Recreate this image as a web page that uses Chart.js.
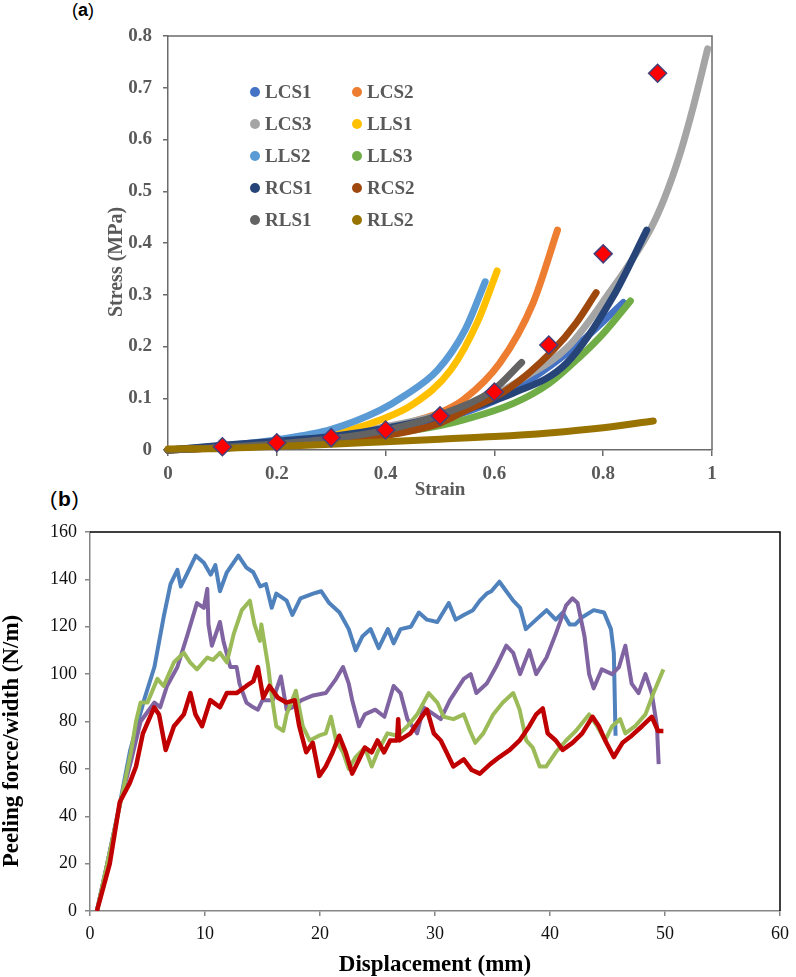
<!DOCTYPE html>
<html>
<head>
<meta charset="utf-8">
<script src="https://cdn.jsdelivr.net/npm/chart.js@4.4.0/dist/chart.umd.min.js"></script>
<style>
  html, body { margin: 0; padding: 0; background: #fff; }
  body { width: 796px; height: 977px; position: relative; overflow: hidden; }
  .tag { position: absolute; font-family: "Liberation Sans", Arial, sans-serif; color: #000; line-height: 1; }
  #wrapA { position: absolute; left: 0; top: 0; }
  #wrapB { position: absolute; left: 0; top: 500px; }
</style>
</head>
<body>
<div class="tag" style="left:72px;top:1px;font-size:18px;">(<b>a</b>)</div>
<div class="tag" style="left:50px;top:488px;font-size:21px;letter-spacing:1px;">(<b>b</b>)</div>
<div id="wrapA"><canvas id="chartA" width="796" height="500"></canvas></div>
<div id="wrapB"><canvas id="chartB" width="796" height="477"></canvas></div>
<script>
// ---- (a) stress / strain : [strain, stress MPa]
var lcs1 = [[0,0],[0.1,0.006],[0.2,0.013],[0.3,0.022],[0.4,0.036],[0.5,0.058],[0.6,0.095],[0.665,0.135],[0.757,0.207],[0.837,0.285]];
var lcs2 = [[0,0],[0.1,0.005],[0.2,0.011],[0.3,0.021],[0.4,0.04],[0.45,0.055],[0.5,0.072],[0.543,0.097],[0.61,0.168],[0.671,0.284],[0.716,0.425]];
var lcs3 = [[0,0],[0.1,0.008],[0.2,0.016],[0.3,0.027],[0.4,0.045],[0.5,0.068],[0.57,0.09],[0.647,0.135],[0.735,0.199],[0.806,0.296],[0.886,0.425],[0.912,0.485],[0.942,0.575],[0.966,0.665],[0.992,0.775]];
var lls1 = [[0,0],[0.1,0.006],[0.2,0.015],[0.3,0.03],[0.39,0.058],[0.45,0.088],[0.52,0.155],[0.57,0.25],[0.605,0.346]];
var lls2 = [[0,0],[0.1,0.008],[0.2,0.02],[0.3,0.04],[0.39,0.077],[0.432,0.103],[0.496,0.155],[0.546,0.232],[0.583,0.325]];
var lls3 = [[0,0],[0.1,0.005],[0.2,0.011],[0.3,0.018],[0.4,0.03],[0.5,0.047],[0.543,0.058],[0.635,0.09],[0.7,0.128],[0.757,0.18],[0.8,0.225],[0.85,0.288]];
var rcs1 = [[0,0],[0.1,0.009],[0.2,0.017],[0.3,0.026],[0.4,0.042],[0.5,0.065],[0.635,0.11],[0.733,0.168],[0.818,0.296],[0.88,0.425]];
var rcs2 = [[0,0],[0.1,0.004],[0.2,0.009],[0.3,0.016],[0.4,0.028],[0.5,0.052],[0.543,0.074],[0.623,0.116],[0.708,0.193],[0.75,0.245],[0.787,0.304]];
var rls1 = [[0,0],[0.1,0.005],[0.2,0.012],[0.3,0.022],[0.4,0.038],[0.5,0.068],[0.598,0.116],[0.65,0.169]];
var rls2 = [[0,0.002],[0.1,0.003],[0.2,0.007],[0.3,0.011],[0.4,0.016],[0.5,0.021],[0.6,0.026],[0.7,0.033],[0.8,0.043],[0.892,0.056]];
var modelStrain = [0.1,0.2,0.3,0.4,0.5,0.6,0.7,0.8,0.9];
var modelStress = [0.0064,0.014,0.024,0.0386,0.066,0.112,0.203,0.379,0.728];

var seriesNames = ['LCS1','LCS2','LCS3','LLS1','LLS2','LLS3','RCS1','RCS2','RLS1','RLS2'];
var seriesColors = ['#4472C4','#ED7D31','#A5A5A5','#FFC000','#5B9BD5','#70AD47','#264478','#9E480E','#636363','#997300'];
var seriesData = [lcs1,lcs2,lcs3,lls1,lls2,lls3,rcs1,rcs2,rls1,rls2];

// ---- (b) peeling : [displacement mm, force/width N/m]
var peelBlue = [[0.6,0],[1.5,20],[2.7,48],[3.5,68],[4.7,89],[5.6,103],[6.4,124],[7.0,138],[7.6,144],[7.9,137],[8.5,143],[9.2,150],[9.9,147],[10.5,142],[10.9,146],[11.3,135],[11.9,143],[12.9,150],[13.6,145],[14.2,143],[14.8,137],[15.3,138],[15.8,128],[16.2,134],[17.1,131],[17.6,125],[18.3,132],[19.4,134],[20.1,135],[20.8,130],[21.7,126],[22.5,119],[23.1,110],[23.7,116],[24.4,119],[25.1,111],[25.9,119],[26.4,113],[27.0,119],[27.9,120],[28.6,126],[29.3,123],[30.2,122],[31.2,130],[31.8,123],[32.5,125],[33.3,127],[33.9,131],[34.5,134],[34.9,135],[35.6,139],[36.2,135],[36.8,131],[37.4,128],[37.9,119],[38.8,123],[39.7,127],[40.5,123],[41.1,126],[41.7,121],[42.2,121],[42.8,124],[43.8,127],[44.7,126],[45.3,119],[45.55,109],[45.7,74]];
var peelPurple = [[0.6,0],[1.5,20],[2.7,47],[3.6,64],[4.4,80],[5.6,88],[6.1,86],[6.7,95],[7.6,103],[8.5,117],[9.3,130],[9.9,128],[10.2,136],[10.3,121],[10.6,112],[11.3,122],[11.6,114],[12.2,103],[12.75,103],[13.0,96],[13.6,88],[14.2,86],[14.6,85],[15.0,89],[15.9,89],[16.6,99],[17.1,85],[17.6,86],[18.4,89],[19.4,91],[20.5,92],[21.4,98],[22.0,103],[22.5,96],[22.8,89],[23.4,78],[23.9,83],[24.8,85],[25.6,82],[26.4,95],[27.0,92],[27.6,81],[28.45,75],[29.0,86],[29.9,83],[30.5,81],[31.3,89],[32.5,98],[33.1,100],[33.6,92],[34.5,96],[35.3,103],[36.2,112],[36.8,109],[37.4,100],[38.2,110],[38.8,100],[39.7,107],[40.5,117],[41.4,129],[41.95,132],[42.4,130],[43.0,116],[43.4,100],[43.8,94],[44.5,102],[45.4,100],[46.0,103],[46.55,112],[47.1,96],[47.7,92],[48.3,100],[48.85,92],[49.3,78],[49.45,62]];
var peelGreen = [[0.6,0],[1.5,20],[2.7,47],[3.56,67],[4.0,80],[4.4,88],[5.0,88],[5.86,98],[6.4,95],[7.3,105],[8.16,109],[8.7,105],[9.3,102],[10.2,107],[10.7,106],[11.3,109],[11.9,105],[12.5,117],[13.2,127],[13.9,131],[14.3,121],[14.77,114],[14.9,121],[15.5,103],[15.8,91],[16.2,78],[16.8,76],[17.1,83],[17.9,93],[18.5,78],[19.1,72],[19.9,74],[20.5,75],[20.95,82],[21.4,72],[22.0,67],[22.5,60],[23.1,65],[23.9,69],[24.5,61],[25.0,67],[25.86,75],[26.7,74],[27.6,78],[28.45,83],[29.45,92],[30.2,88],[30.75,82],[31.6,81],[32.5,83],[33.05,76],[33.5,71],[34.2,75],[35.06,83],[35.9,88],[36.8,92],[37.36,85],[37.93,72],[38.5,69],[39.1,61],[39.66,61],[40.5,67],[41.4,72],[42.24,76],[43.4,83],[44.1,78],[44.8,72],[45.4,78],[46.1,81],[46.55,75],[47.4,78],[48.3,83],[49.0,92],[49.86,102]];
var peelRed = [[0.6,0],[1.72,20],[2.59,46],[3.45,54],[4.0,61],[4.6,75],[4.7,76],[5.58,86],[6.0,83],[6.58,68],[7.3,78],[8.16,83],[8.73,92],[9.17,83],[9.74,78],[10.46,89],[11.3,86],[11.9,92],[12.75,92],[13.6,95],[14.2,97],[14.6,103],[15.06,90],[15.6,95],[16.35,90],[17.07,88],[17.8,89],[18.2,78],[18.8,67],[19.37,71],[19.94,57],[20.5,61],[21.1,67],[21.67,74],[22.24,67],[22.8,58],[23.4,64],[23.9,69],[24.5,67],[25.0,72],[25.57,67],[26.1,72],[26.7,72],[26.8,81],[26.9,72],[27.87,75],[28.7,81],[29.3,85],[29.9,75],[30.5,72],[31.0,67],[31.6,61],[32.5,64],[33.2,59.5],[33.9,58],[34.8,62],[35.6,65],[36.5,68],[37.36,72],[38.2,78],[38.8,83],[39.37,85.5],[39.8,75],[40.5,72],[41.1,68],[41.95,71],[42.8,75],[43.7,82],[44.25,78],[44.8,72],[45.55,65],[46.3,71],[47.1,74],[48.0,78],[48.85,82],[49.4,76],[49.86,76]];

var serif = "'Liberation Serif', 'Times New Roman', serif";
var darkGray = '#595959';

function toXY(arr) {
  return arr.map(function (p) { return { x: p[0], y: p[1] }; });
}

// little plugins: frame on top/right, grid legend, rotated y title
var framePlugin = {
  id: 'frame',
  beforeDatasetsDraw: function (chart, args, opts) {
    var a = chart.chartArea, ctx = chart.ctx;
    ctx.save();
    ctx.strokeStyle = opts.color;
    ctx.lineWidth = opts.width;
    ctx.beginPath();
    ctx.moveTo(a.left, a.top);
    ctx.lineTo(a.right, a.top);
    ctx.lineTo(a.right, a.bottom);
    ctx.stroke();
    ctx.restore();
  }
};

var gridLegendPlugin = {
  id: 'gridLegend',
  afterDraw: function (chart, args, opts) {
    if (!opts.show) return;
    var a = chart.chartArea, ctx = chart.ctx;
    ctx.save();
    ctx.font = 'bold 19px ' + serif;
    ctx.textBaseline = 'middle';
    ctx.textAlign = 'left';
    for (var i = 0; i < seriesNames.length; i++) {
      var col = i % 2, row = Math.floor(i / 2);
      var mx = a.left + opts.colX[col];
      var my = a.top + opts.rowY0 + row * opts.rowGap;
      ctx.fillStyle = seriesColors[i];
      ctx.beginPath();
      ctx.arc(mx, my, 5, 0, Math.PI * 2);
      ctx.fill();
      ctx.fillStyle = darkGray;
      ctx.fillText(seriesNames[i], mx + 10, my + 1);
    }
    ctx.restore();
  }
};

var yTitlePlugin = {
  id: 'yTitle',
  afterDraw: function (chart, args, opts) {
    var ctx = chart.ctx;
    ctx.save();
    ctx.translate(opts.x, opts.y);
    ctx.rotate(-Math.PI / 2);
    ctx.font = opts.font;
    ctx.fillStyle = opts.color;
    ctx.textAlign = 'center';
    ctx.textBaseline = 'middle';
    ctx.fillText(opts.text, 0, 0);
    ctx.restore();
  }
};

// ---------- chart (a)
var dsA = seriesData.map(function (d, i) {
  return {
    label: seriesNames[i],
    data: toXY(d),
    showLine: true,
    borderColor: seriesColors[i],
    backgroundColor: seriesColors[i],
    borderWidth: 7,
    borderCapStyle: 'round',
    borderJoinStyle: 'round',
    cubicInterpolationMode: 'monotone',
    pointRadius: 0,
    clip: false,
    order: 20 - i
  };
});
dsA.push({
  label: 'model',
  data: modelStrain.map(function (s, i) { return { x: s, y: modelStress[i] }; }),
  showLine: false,
  pointStyle: 'rectRot',
  pointRadius: 9,
  backgroundColor: '#FF0000',
  borderColor: '#44407A',
  borderWidth: 1.5,
  clip: false,
  order: 0
});

new Chart(document.getElementById('chartA'), {
  type: 'scatter',
  data: { datasets: dsA },
  options: {
    responsive: false,
    animation: false,
    layout: { padding: { left: 0, top: 36, right: 84, bottom: 0 } },
    plugins: {
      legend: { display: false },
      tooltip: { enabled: false },
      frame: { color: '#6b6b6b', width: 1.5 },
      gridLegend: { show: true, colX: [87, 189], rowY0: 56, rowGap: 32 },
      yTitle: { x: 117, y: 262, text: 'Stress (MPa)', font: 'bold 20px ' + serif, color: darkGray }
    },
    scales: {
      x: {
        type: 'linear', min: 0, max: 1,
        ticks: {
          stepSize: 0.2, color: darkGray, padding: 7,
          font: { family: serif, size: 19, weight: 'bold' },
          callback: function (v) { return String(Number(v.toFixed(2))); }
        },
        grid: { drawOnChartArea: false, drawTicks: true, tickLength: 6, color: '#6b6b6b', lineWidth: 1.5 },
        border: { color: '#6b6b6b', width: 1.5 },
        title: { display: true, text: 'Strain', color: darkGray, padding: 0, font: { family: serif, size: 19, weight: 'bold', lineHeight: 1 } },
        afterFit: function (s) { s.height = 50; }
      },
      y: {
        type: 'linear', min: 0, max: 0.8,
        ticks: {
          stepSize: 0.1, color: darkGray, padding: 11,
          font: { family: serif, size: 19, weight: 'bold' },
          callback: function (v) { return String(Number(v.toFixed(2))); }
        },
        grid: { drawOnChartArea: false, drawTicks: true, tickLength: 5, color: '#6b6b6b', lineWidth: 1.5 },
        border: { color: '#6b6b6b', width: 1.5 },
        afterFit: function (s) { s.width = 168; }
      }
    }
  },
  plugins: [framePlugin, gridLegendPlugin, yTitlePlugin]
});

// ---------- chart (b)
var peelSets = [
  { data: peelBlue, color: '#4F81BD', width: 4, order: 3 },
  { data: peelPurple, color: '#8064A2', width: 4, order: 2 },
  { data: peelGreen, color: '#9BBB59', width: 4, order: 1 },
  { data: peelRed, color: '#C00000', width: 4.5, order: 0 }
];

new Chart(document.getElementById('chartB'), {
  type: 'scatter',
  data: {
    datasets: peelSets.map(function (p) {
      return {
        data: toXY(p.data),
        showLine: true,
        borderColor: p.color,
        backgroundColor: p.color,
        borderWidth: p.width,
        borderJoinStyle: 'round',
        tension: 0,
        pointRadius: 0,
        order: p.order
      };
    })
  },
  options: {
    responsive: false,
    animation: false,
    layout: { padding: { left: 0, top: 32, right: 10, bottom: 0 } },
    plugins: {
      legend: { display: false },
      tooltip: { enabled: false },
      frame: { color: '#000', width: 1.5 },
      yTitle: { x: 12, y: 241, text: 'Peeling force/width (N/m)', font: 'bold 23px ' + serif, color: '#000' }
    },
    scales: {
      x: {
        type: 'linear', min: 0, max: 60,
        ticks: { stepSize: 10, color: '#111', padding: 7, font: { family: serif, size: 18 } },
        grid: { drawOnChartArea: false, drawTicks: true, tickLength: 5, color: '#868686', lineWidth: 1.5 },
        border: { color: '#868686', width: 1.5 },
        title: { display: true, text: 'Displacement (mm)', color: '#000', padding: 0, font: { family: serif, size: 23, weight: 'bold', lineHeight: 1 } },
        afterFit: function (s) { s.height = 66; }
      },
      y: {
        type: 'linear', min: 0, max: 160,
        ticks: { stepSize: 20, color: '#111', padding: 8, font: { family: serif, size: 18 } },
        grid: { drawOnChartArea: false, drawTicks: true, tickLength: 5, color: '#868686', lineWidth: 1.5 },
        border: { color: '#868686', width: 1.5 },
        afterFit: function (s) { s.width = 90; }
      }
    }
  },
  plugins: [framePlugin, yTitlePlugin]
});
</script>
</body>
</html>
